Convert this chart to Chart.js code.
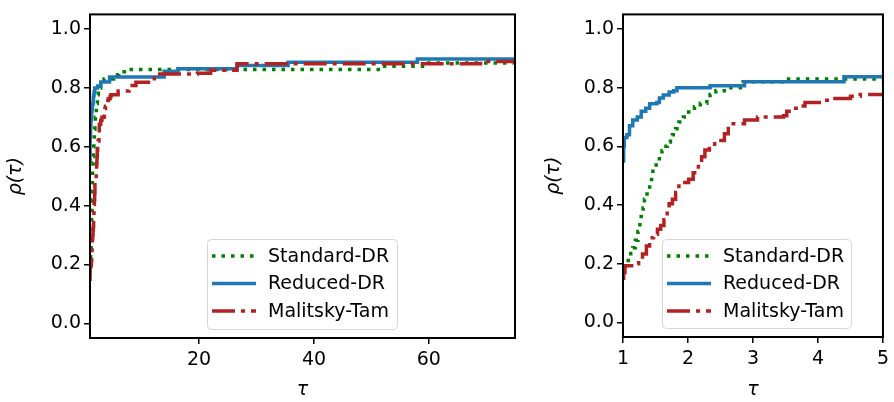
<!DOCTYPE html>
<html>
<head>
<meta charset="utf-8">
<script src="https://cdn.jsdelivr.net/npm/chart.js@4.4.1/dist/chart.umd.min.js"></script>
<style>
    body { margin: 0; background: #fff; width: 894px; height: 402px; overflow: hidden; position: relative; }
    canvas { position: absolute; top: 0; }
    #leftChart { left: 0; }
    #rightChart { left: 538px; }
</style>
</head>
<body>
<canvas id="leftChart" width="533" height="402"></canvas>
<canvas id="rightChart" width="356" height="402"></canvas>
<script>
// performance profiles (step points: tau where rho jumps)
const stdTau = [1.00, 1.03, 1.08, 1.12, 1.15, 1.19, 1.23, 1.26, 1.28, 1.31, 1.33, 1.37, 1.41, 1.44, 1.46, 1.51, 1.56, 1.60, 1.63, 1.68, 1.73, 1.76, 1.81, 1.86, 1.93, 2.01, 2.10, 2.19, 2.29, 2.34, 2.43, 2.66, 2.85, 3.45, 5.1, 6.0, 7.0, 52.3, 59.5, 75];
const stdRho = [0.19, 0.20, 0.217, 0.235, 0.254, 0.28, 0.31, 0.34, 0.367, 0.39, 0.42, 0.45, 0.477, 0.50, 0.527, 0.545, 0.567, 0.585, 0.60, 0.615, 0.633, 0.64, 0.66, 0.683, 0.70, 0.717, 0.735, 0.747, 0.76, 0.777, 0.79, 0.80, 0.82, 0.83, 0.845, 0.855, 0.863, 0.874, 0.885, 0.885];

const redTau = [1.00, 1.01, 1.02, 1.06, 1.10, 1.15, 1.22, 1.28, 1.35, 1.41, 1.52, 1.56, 1.62, 1.71, 1.78, 1.83, 2.34, 2.87, 4.4, 13.9, 16.3, 26.6, 35.5, 58.0, 75];
const redRho = [0.55, 0.60, 0.63, 0.64, 0.67, 0.69, 0.70, 0.72, 0.73, 0.745, 0.75, 0.765, 0.775, 0.785, 0.79, 0.80, 0.807, 0.82, 0.837, 0.857, 0.865, 0.876, 0.887, 0.898, 0.898];

const mtTau = [1.00, 1.01, 1.03, 1.18, 1.24, 1.30, 1.36, 1.41, 1.47, 1.53, 1.58, 1.63, 1.68, 1.71, 1.76, 1.81, 1.86, 2.01, 2.08, 2.16, 2.21, 2.26, 2.33, 2.41, 2.56, 2.62, 2.87, 3.07, 3.47, 3.52, 3.60, 3.70, 3.80, 4.10, 4.20, 4.50, 4.65, 5.9, 7.8, 9.0, 12.2, 19.7, 22.0, 26.6, 69.0, 75];
const mtRho = [0.15, 0.17, 0.193, 0.20, 0.215, 0.233, 0.26, 0.288, 0.30, 0.317, 0.33, 0.35, 0.38, 0.404, 0.42, 0.443, 0.477, 0.488, 0.51, 0.543, 0.565, 0.588, 0.60, 0.62, 0.643, 0.677, 0.69, 0.70, 0.704, 0.72, 0.73, 0.738, 0.75, 0.757, 0.763, 0.771, 0.777, 0.79, 0.808, 0.819, 0.847, 0.85, 0.86, 0.882, 0.89, 0.89];

const seriesNames = ['Standard-DR', 'Reduced-DR', 'Malitsky-Tam'];
const yTicks = [0.0, 0.2, 0.4, 0.6, 0.8, 1.0];
const leftXTicks = [20, 40, 60];
const rightXTicks = [1, 2, 3, 4, 5];

const FONT = 'DejaVu Sans';
const FSIZE = 19;

function toPoints(taus, rhos) {
    return taus.map((t, i) => ({ x: t, y: rhos[i] }));
}

function buildDatasets() {
    return [
        {
            label: seriesNames[0],
            data: toPoints(stdTau, stdRho),
            borderColor: '#008000',
            borderWidth: 3.5,
            borderDash: [3.5, 6],
            order: 2
        },
        {
            label: seriesNames[1],
            data: toPoints(redTau, redRho),
            borderColor: '#1f77b4',
            borderWidth: 3.5,
            order: 1
        },
        {
            label: seriesNames[2],
            data: toPoints(mtTau, mtRho),
            borderColor: '#b22222',
            borderWidth: 3.5,
            borderDash: [23, 6, 4, 6],
            order: 0
        }
    ];
}

// box round the plot area + legend in the lower part
const framePlugin = {
    id: 'frame',
    afterDatasetsDraw(chart, args, opts) {
        const { ctx, chartArea: a } = chart;
        ctx.save();

        const lg = opts.legend;
        ctx.beginPath();
        ctx.roundRect(lg.x + 0.5, lg.y + 0.5, lg.w, lg.h, 4);
        ctx.fillStyle = 'rgba(255,255,255,0.8)';
        ctx.fill();
        ctx.strokeStyle = 'rgba(204,204,204,0.8)';
        ctx.lineWidth = 1;
        ctx.stroke();

        ctx.font = FSIZE + 'px "' + FONT + '"';
        ctx.textBaseline = 'middle';
        ctx.fillStyle = '#000';
        chart.data.datasets.forEach((ds, i) => {
            const cy = lg.y + 17 + i * 27.5;
            ctx.beginPath();
            ctx.setLineDash(ds.borderDash || []);
            ctx.lineWidth = ds.borderWidth;
            ctx.strokeStyle = ds.borderColor;
            ctx.moveTo(lg.x + 5, cy);
            ctx.lineTo(lg.x + 49, cy);
            ctx.stroke();
            ctx.fillText(ds.label, lg.x + 61, cy + 1);
        });

        ctx.setLineDash([]);
        ctx.strokeStyle = '#000';
        ctx.lineWidth = 2;
        ctx.strokeRect(a.left, a.top, a.right - a.left, a.bottom - a.top);
        ctx.restore();
    }
};

function makeChart(id, xMin, xMax, xTicks, yWidth, xHeight, pad, legendBox) {
    const ctx = document.getElementById(id).getContext('2d');
    return new Chart(ctx, {
        type: 'line',
        data: { datasets: buildDatasets() },
        plugins: [framePlugin],
        options: {
            responsive: false,
            animation: false,
            devicePixelRatio: 1,
            layout: { padding: pad },
            elements: {
                line: { stepped: 'before', tension: 0, fill: false },
                point: { radius: 0 }
            },
            datasets: { line: { clip: 0 } },
            plugins: {
                legend: { display: false },
                tooltip: { enabled: false },
                frame: { legend: legendBox }
            },
            scales: {
                x: {
                    type: 'linear',
                    min: xMin,
                    max: xMax,
                    afterBuildTicks: s => { s.ticks = xTicks.map(v => ({ value: v })); },
                    afterFit: s => { s.height = xHeight; },
                    grid: { display: true, drawOnChartArea: false, drawTicks: true, tickLength: 6, tickColor: '#000', lineWidth: 1.5 },
                    border: { display: false },
                    ticks: { color: '#000', font: { family: FONT, size: FSIZE }, padding: 5, maxRotation: 0, callback: v => String(v) },
                    title: { display: true, text: 'τ', color: '#000', font: { family: FONT, size: FSIZE, style: 'italic' }, padding: { bottom: 1 } }
                },
                y: {
                    type: 'linear',
                    min: -0.05,
                    max: 1.05,
                    afterBuildTicks: s => { s.ticks = yTicks.map(v => ({ value: v })); },
                    afterFit: s => { s.width = yWidth; },
                    grid: { display: true, drawOnChartArea: false, drawTicks: true, tickLength: 6, tickColor: '#000', lineWidth: 1.5 },
                    border: { display: false },
                    ticks: { color: '#000', font: { family: FONT, size: FSIZE }, padding: 3, callback: v => v.toFixed(1) },
                    title: { display: true, text: 'ρ(τ)', color: '#000', font: { family: FONT, size: FSIZE, style: 'italic' }, padding: { top: 5 } }
                }
            }
        }
    });
}

makeChart('leftChart', 1, 75, leftXTicks, 90, 64,
    { left: 0, top: 7, right: 18, bottom: 0 },
    { x: 207, y: 239, w: 190, h: 90 });

makeChart('rightChart', 1, 5, rightXTicks, 85, 65,
    { left: 0, top: 8, right: 6, bottom: 0 },
    { x: 124, y: 239, w: 189, h: 89 });
</script>
</body>
</html>
